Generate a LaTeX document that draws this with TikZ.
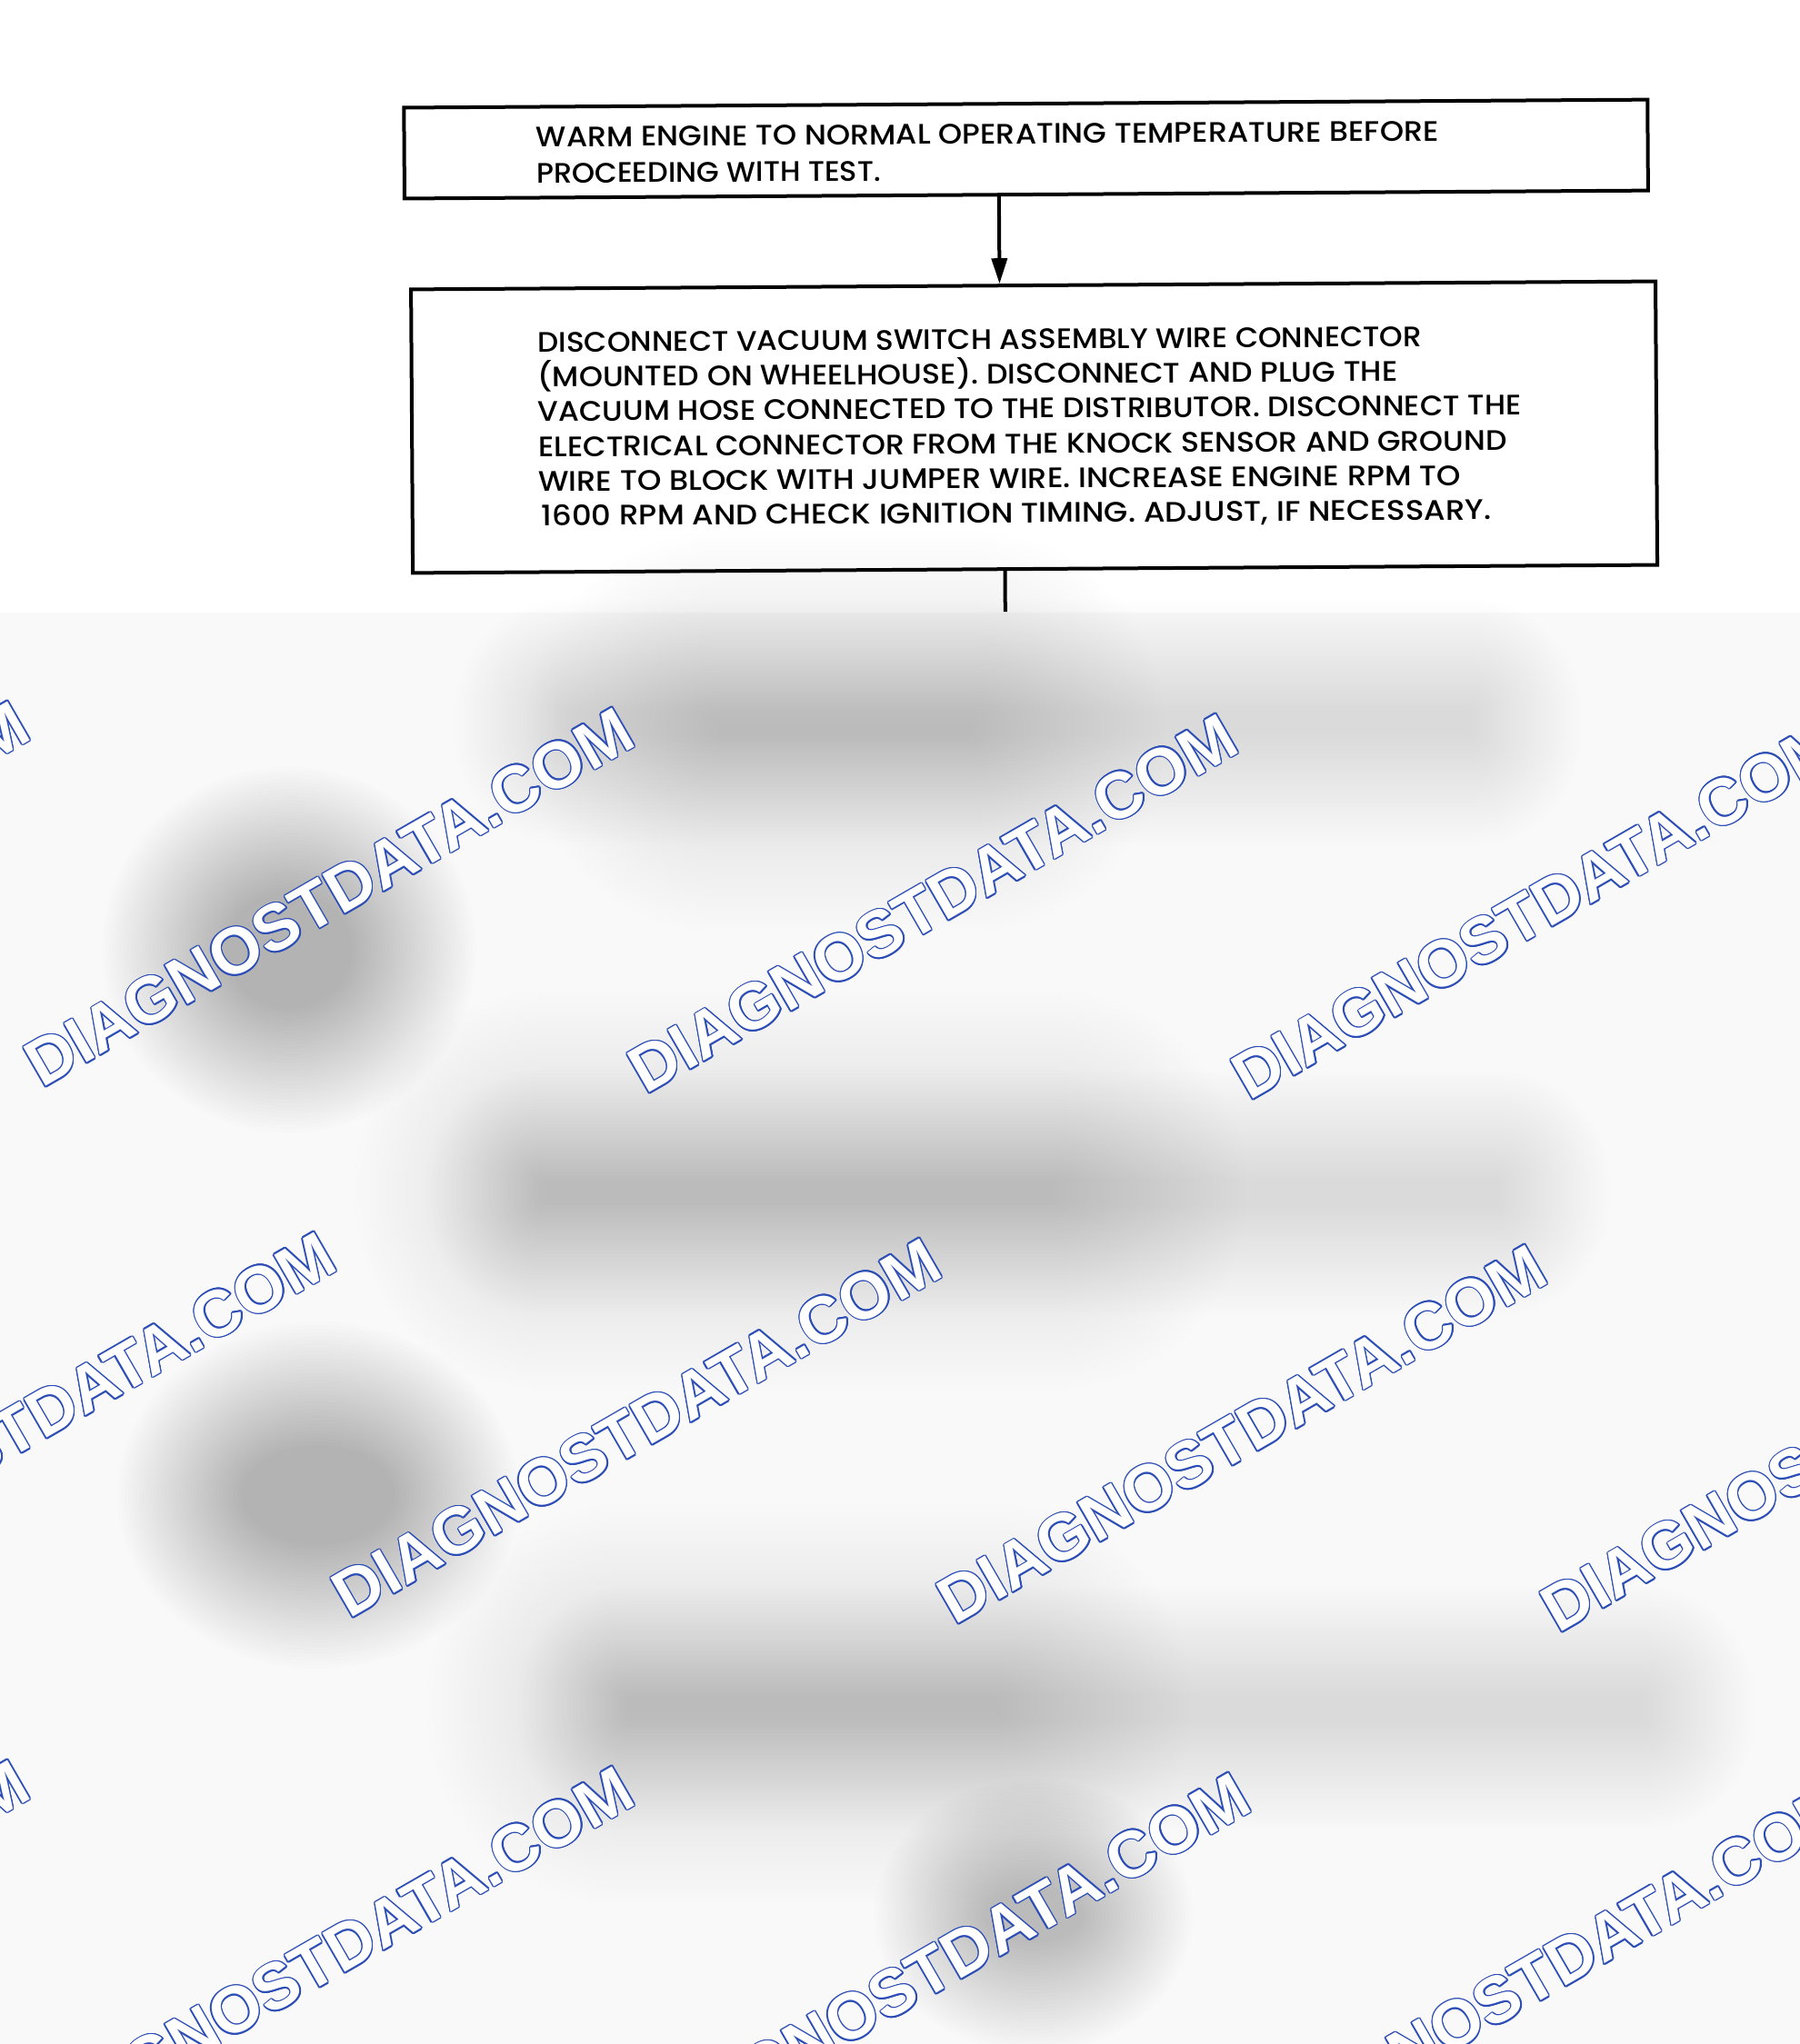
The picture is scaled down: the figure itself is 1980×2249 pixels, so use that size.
\documentclass[tikz,border=0pt]{standalone}
\usepackage{fontspec}
\setmainfont{Poppins}
\newfontfamily\boxfont{Poppins Medium}
\newfontfamily\wmfont{Liberation Sans}
\usetikzlibrary{arrows.meta}
\definecolor{wmblue}{HTML}{2B4DB5}
\definecolor{bgg}{HTML}{F9F9F9}
\newlength\fitw
\newcommand\fitline[2]{\settowidth\fitw{#2}\edef\fitscale{\fpeval{#1/\fitw}}\scalebox{\fitscale}[1]{#2}}
% soft blurred rectangle: cx cy w h step opacity layers
\newcommand\blobrect[7]{%
  \foreach \i in {0,...,#7}{%
    \pgfmathsetmacro\rr{#5*\i+3}%
    \fill[black, opacity=#6, rounded corners=\rr pt] ({#1-#3/2-#5*\i},{#2-#4/2-#5*\i}) rectangle ({#1+#3/2+#5*\i},{#2+#4/2+#5*\i});
  }}
% soft blurred ellipse: cx cy rx ry step opacity layers
\newcommand\blobell[7]{%
  \foreach \i in {0,...,#7}{%
    \pgfmathsetmacro\rx{#3+#5*\i}\pgfmathsetmacro\ry{#4+#5*\i}%
    \fill[black, opacity=#6] (#1,#2) ellipse [x radius=\rx pt, y radius=\ry pt];
  }}
\tikzset{
  stepbox/.style={draw, line width=4pt, inner sep=0pt},
  ln/.style={anchor=base west, inner sep=0pt, font=\boxfont\fontsize{31}{38}\selectfont},
  flow/.style={line width=4pt},
  arr/.style={line width=4pt, -{Triangle[length=28pt,width=17pt]}},
  wmo/.style={inner sep=0pt, rotate=30, text=wmblue, font=\wmfont\bfseries\fontsize{72}{72}\selectfont},
  wmi/.style={wmo, text=white}
}
\begin{document}
\begin{tikzpicture}[x=1pt,y=-1pt]
\useasboundingbox (0,0) rectangle (1980,2249);
\begin{scope}
\clip (0,0) rectangle (1980,2249);
% blurred lower part
\fill[bgg] (0,674) rectangle (1980,2249);
% band A
\blobrect{1120}{795}{1000}{30}{4}{0.0055}{30}
\blobrect{930}{805}{280}{20}{7}{0.004}{30}
% blob B
\blobell{318}{1045}{70}{65}{4}{0.008}{34}
% band C
\blobrect{1120}{1312}{1060}{30}{4}{0.005}{30}
\blobrect{880}{1310}{560}{20}{7}{0.0045}{30}
% blob D
\blobell{350}{1645}{85}{55}{4}{0.008}{34}
% band E
\blobrect{1250}{1880}{1120}{30}{4}{0.0035}{30}
\blobrect{890}{1876}{420}{20}{7}{0.0055}{30}
% blob F
\blobell{1137}{2108}{55}{30}{4}{0.0065}{30}
% watermarks
\foreach \cx/\cy in {-303/980, 362/987, 1026/994, 1690/1001,
                     34/1564, 700/1571, 1366/1578, 2030/1587,
                     -303/2145, 362/2152, 1040/2159, 1705/2167}{
  \foreach \a in {0,30,...,330}{
    \node[wmo, shift={(\a:1.4)}] at (\cx,\cy) {DIAGNOSTDATA.COM};
  }
  \node[wmi] at (\cx,\cy) {DIAGNOSTDATA.COM};
}
\end{scope}
% top diagram
\begin{scope}[rotate around={0.37:(1135,380)}, transform shape]
\node[stepbox, minimum width=1368pt, minimum height=100pt] (b1) at (1130,164) {};
\node[stepbox, minimum width=1369pt, minimum height=312pt] (b2) at (1137,470) {};
\node[ln] (t11) at (591,158) {\fitline{993}{WARM ENGINE TO NORMAL OPERATING TEMPERATURE BEFORE}};
\node[ln] (t12) at (591,198) {\fitline{379}{PROCEEDING WITH TEST.}};
\node[ln] (t21) at (591,384) {\fitline{973}{DISCONNECT VACUUM SWITCH ASSEMBLY WIRE CONNECTOR}};
\node[ln] (t22) at (591,422) {\fitline{946}{(MOUNTED ON WHEELHOUSE). DISCONNECT AND PLUG THE}};
\node[ln] (t23) at (591,460) {\fitline{1082}{VACUUM HOSE CONNECTED TO THE DISTRIBUTOR. DISCONNECT THE}};
\node[ln] (t24) at (591,499) {\fitline{1066}{ELECTRICAL CONNECTOR FROM THE KNOCK SENSOR AND GROUND}};
\node[ln] (t25) at (591,537) {\fitline{1015}{WIRE TO BLOCK WITH JUMPER WIRE. INCREASE ENGINE RPM TO}};
\node[ln] (t26) at (594,575) {\fitline{1045}{1600 RPM AND CHECK IGNITION TIMING. ADJUST, IF NECESSARY.}};
\coordinate (ax) at (1100,0);
\coordinate (cut) at (1104,673);
\draw[arr] (b1.south -| ax) -- (b2.north -| ax);
\draw[flow] (b2.south -| cut) -- (cut);
\end{scope}
\end{tikzpicture}
\end{document}
